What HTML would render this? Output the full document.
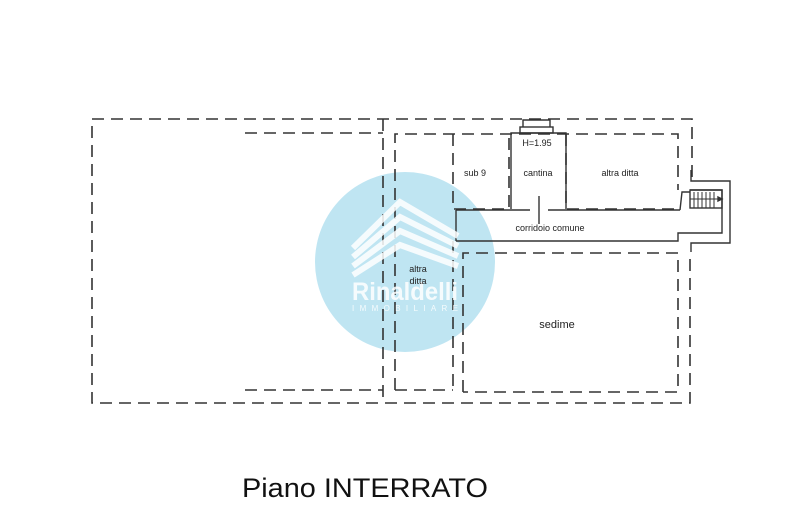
<!DOCTYPE html>
<html><head><meta charset="utf-8"><style>
html,body{margin:0;padding:0;background:#fff;}
svg{display:block;}
text{font-family:"Liberation Sans",Arial,sans-serif;}
</style></head><body>
<svg width="810" height="525" viewBox="0 0 810 525" xmlns="http://www.w3.org/2000/svg">
<rect width="810" height="525" fill="#fff"/>
<circle cx="405" cy="262" r="90" fill="#bfe5f2"/>
<g fill="none" stroke="#333" stroke-width="1.6" stroke-dasharray="12,7">
  <polyline points="692,177 692,119 92,119 92,403 690,403 690,252"/>
  <line x1="245" y1="133" x2="383" y2="133"/>
  <line x1="245" y1="390" x2="383" y2="390"/>
  <line x1="383" y1="119" x2="383" y2="403"/>
  <polyline points="395,390 395,134 678,134 678,190"/>
  <polyline points="453,134 453,209 509,209 509,134"/>
  <polyline points="566,134 566,209 678,209"/>
  <line x1="453" y1="241" x2="453" y2="390"/>
  <polyline points="395,390 453,390"/>
  <polyline points="463,392 463,253 678,253 678,392 463,392"/>
</g>
<g fill="none" stroke="#333" stroke-width="1.4">
  <polyline points="511,209 511,133 566,133 566,209"/>
  <rect x="520" y="127" width="33" height="6"/>
  <polyline points="523,127 523,120 550,120 550,127"/>
  <line x1="456" y1="210" x2="530" y2="210"/>
  <line x1="548" y1="210" x2="680" y2="210"/>
  <line x1="539" y1="196" x2="539" y2="224"/>
  <polyline points="680,210 682,192 690,192"/>
  <line x1="456" y1="210" x2="456" y2="241"/>
  <polyline points="456,241 678,241 678,233 722,233 722,190 690,190"/>
  <polyline points="691,170 691,181 730,181 730,243 691,243 691,252"/>
  <rect x="690" y="190" width="32" height="18"/>
  <g stroke-width="1">
    <line x1="694" y1="192" x2="694" y2="208"/><line x1="698" y1="192" x2="698" y2="208"/>
    <line x1="702" y1="192" x2="702" y2="208"/><line x1="706" y1="192" x2="706" y2="208"/>
    <line x1="710" y1="192" x2="710" y2="208"/><line x1="714" y1="192" x2="714" y2="208"/>
    <line x1="690" y1="199" x2="718" y2="199"/>
  </g>
  <polygon points="718,197 722,199 718,201" fill="#333"/>
</g>
<g opacity="0.85">
<g fill="none" stroke="#fff" stroke-width="6">
  <polyline points="353,248 400,202 458,236"/>
  <polyline points="353,257 400,217 458,246"/>
  <polyline points="353,266 400,231 458,256"/>
  <polyline points="353,275 400,245 458,266"/>
</g>
<text x="352" y="300" font-size="25" font-weight="bold" fill="#fff" textLength="106" lengthAdjust="spacingAndGlyphs">Rinaldelli</text>
<text x="352" y="311" font-size="8" fill="#fff" textLength="106" lengthAdjust="spacing">IMMOBILIARE</text>
</g>
<g fill="#222" font-size="9">
  <text x="537" y="146" text-anchor="middle">H=1.95</text>
  <text x="475" y="176" text-anchor="middle">sub 9</text>
  <text x="538" y="176" text-anchor="middle">cantina</text>
  <text x="620" y="176" text-anchor="middle">altra ditta</text>
  <text x="550" y="231" text-anchor="middle">corridoio comune</text>
  <text x="418" y="272" text-anchor="middle">altra</text>
  <text x="418" y="284" text-anchor="middle">ditta</text>
  <text x="557" y="328" text-anchor="middle" font-size="11">sedime</text>
</g>
<text x="242" y="497" font-size="27" fill="#111" textLength="246" lengthAdjust="spacingAndGlyphs">Piano INTERRATO</text>
</svg>
</body></html>
